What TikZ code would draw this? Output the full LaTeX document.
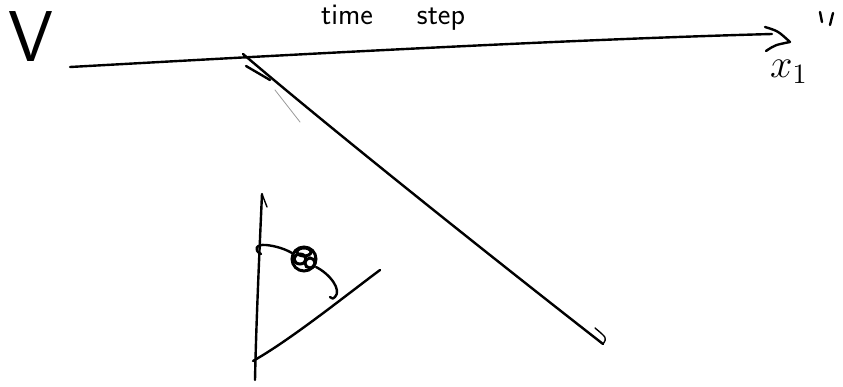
\documentclass[tikz,border=0pt]{standalone}
\usepackage{fontspec}
\usetikzlibrary{arrows.meta,positioning}
\tikzset{
  ink/.style={draw=black, line width=2.4pt, line cap=round, line join=round},
  thinink/.style={draw=black, line width=1.4pt, line cap=round},
  faint/.style={draw=black!40, line width=0.8pt, line cap=round},
  blob/.style={draw=black, line width=3pt},
  hand/.style={inner sep=0pt, font=\sffamily},
}

\begin{document}
\begin{tikzpicture}[x=1pt,y=-1pt]
\useasboundingbox (0,0) rectangle (843,387);
% labels
\node[hand, anchor=base, font=\sffamily\fontsize{72}{72}\selectfont] (vlbl) at (31,62) {V};
\node[hand, anchor=base, font=\sffamily\fontsize{30}{30}\selectfont] (tlbl) at (347,25) {time};
\node[hand, anchor=base, font=\sffamily\fontsize{30}{30}\selectfont] (slbl) at (441,25) {step};
\node[hand, font=\Large, scale=2.8] (xlbl) at (789,72) {$x_1$};
\draw[ink] (820,12) -- (822,22) (833,13) -- (830,25);
% time axis
\coordinate (o) at (70,67);
\coordinate (xe) at (772,34);
\coordinate (xt) at (790,42);
\draw[ink] (o) .. controls (250,57) and (550,40) .. (xe);
\draw[ink] (765,27) .. controls (778,31) .. (xt) .. controls (775,45) .. (766,51);
% long diagonal
\coordinate (s) at (243,54);
\coordinate (e) at (603,344);
\draw[ink] (s) .. controls (330,128) and (480,248) .. (e);
\draw[thinink] (e) .. controls (607,338) .. (595,328);
\draw[ink] (246,66) -- (270,80);
\draw[faint] (275,90) -- (300,122);
% small axes
\coordinate (ytop) at (262,194);
\coordinate (ybot) at (255,380);
\draw[thinink] (267,207) -- (ytop);
\draw[ink] (ytop) .. controls (259,260) and (256,330) .. (ybot);
\draw[ink] (253,361) .. controls (290,340) and (340,300) .. (380,270);
% curve through the blob
\coordinate (b) at (304,259);
\draw[ink] (261,254) .. controls (253,250) and (256,244) .. (266,245)
  .. controls (276,246) and (285,249) .. (292,253);
\draw[blob] (b) circle[radius=12];
\draw[blob] (300,259) ellipse[x radius=6, y radius=5];
\draw[blob] (310,263) circle[radius=5];
\draw[blob] (304,252) ellipse[x radius=7, y radius=4];
\draw[ink] (316,267) .. controls (330,274) and (342,290) .. (335,297)
  .. controls (333,299) .. (330,297);
\end{tikzpicture}
\end{document}
